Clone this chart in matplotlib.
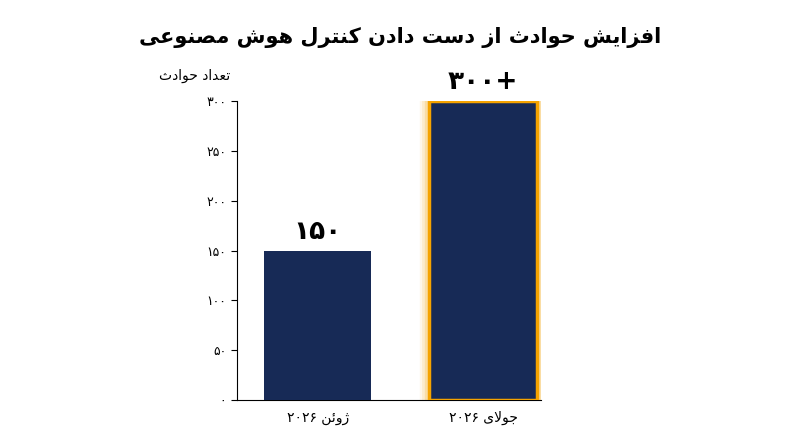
import matplotlib
matplotlib.use("Agg")
import matplotlib.pyplot as plt

categories = ["ژوئن ۲۰۲۶", "جولای ۲۰۲۶"]
values = [150, 300]
bar_labels = ["۱۵۰", "۳۰۰+"]
yticks = [0, 50, 100, 150, 200, 250, 300]
title = "افزایش حوادث از دست دادن کنترل هوش مصنوعی"
ylabel = "تعداد حوادث"

FORMS = {  # iso, fin, ini, med
    'ا': ('\uFE8D', '\uFE8E', None, None), 'ب': ('\uFE8F', '\uFE90', '\uFE91', '\uFE92'),
    'ت': ('\uFE95', '\uFE96', '\uFE97', '\uFE98'), 'ث': ('\uFE99', '\uFE9A', '\uFE9B', '\uFE9C'),
    'ج': ('\uFE9D', '\uFE9E', '\uFE9F', '\uFEA0'), 'ح': ('\uFEA1', '\uFEA2', '\uFEA3', '\uFEA4'),
    'د': ('\uFEA9', '\uFEAA', None, None), 'ذ': ('\uFEAB', '\uFEAC', None, None),
    'ر': ('\uFEAD', '\uFEAE', None, None), 'ز': ('\uFEAF', '\uFEB0', None, None),
    'ژ': ('\uFB8A', '\uFB8B', None, None), 'س': ('\uFEB1', '\uFEB2', '\uFEB3', '\uFEB4'),
    'ش': ('\uFEB5', '\uFEB6', '\uFEB7', '\uFEB8'), 'ص': ('\uFEB9', '\uFEBA', '\uFEBB', '\uFEBC'),
    'ع': ('\uFEC9', '\uFECA', '\uFECB', '\uFECC'), 'ف': ('\uFED1', '\uFED2', '\uFED3', '\uFED4'),
    'ک': ('\uFB8E', '\uFB8F', '\uFB90', '\uFB91'), 'ل': ('\uFEDD', '\uFEDE', '\uFEDF', '\uFEE0'),
    'م': ('\uFEE1', '\uFEE2', '\uFEE3', '\uFEE4'), 'ن': ('\uFEE5', '\uFEE6', '\uFEE7', '\uFEE8'),
    'و': ('\uFEED', '\uFEEE', None, None), 'ه': ('\uFEE9', '\uFEEA', '\uFEEB', '\uFEEC'),
    'ی': ('\uFBFC', '\uFBFD', '\uFBFE', '\uFBFF'), 'ئ': ('\uFE89', '\uFE8A', '\uFE8B', '\uFE8C'),
}

def joins_left(c):
    return c in FORMS and FORMS[c][2] is not None

def shape_word(w):
    # lam-alef
    out = []
    chars = list(w)
    i = 0
    res = []
    while i < len(chars):
        c = chars[i]
        prev = chars[i - 1] if i > 0 else None
        pj = prev is not None and joins_left(prev)
        if c == 'ل' and i + 1 < len(chars) and chars[i + 1] == 'ا':
            res.append('\uFEFC' if pj else '\uFEFB')
            i += 2
            chars_prev_nonjoin = True
            # next char after lam-alef does not join to it
            if i < len(chars):
                chars[i - 1] = 'ا'
            continue
        if c not in FORMS:
            res.append(c); i += 1; continue
        nxt = chars[i + 1] if i + 1 < len(chars) else None
        nj = nxt is not None and nxt in FORMS and joins_left(c)
        iso, fin, ini, med = FORMS[c]
        if pj and nj:
            res.append(med)
        elif pj:
            res.append(fin)
        elif nj:
            res.append(ini)
        else:
            res.append(iso)
        i += 1
    return ''.join(reversed(res))

def rtl(s):
    words = s.split(' ')
    out = []
    for w in words:
        if any(ch in FORMS for ch in w):
            out.append(shape_word(w))
        else:
            out.append(w)
    return ' '.join(reversed(out))

def fa_digits(n):
    return str(n).translate(str.maketrans('0123456789', '۰۱۲۳۴۵۶۷۸۹'))

plt.rcParams['font.family'] = ['DejaVu Sans']
fig = plt.figure(figsize=(8, 4.47), dpi=100)
ax = fig.add_axes([0.296, 0.105, 0.38, 0.669])
navy = '#172a56'
orange = '#f5a300'
x = [0, 1]
bars = ax.bar(x, values, width=0.65, color=navy, zorder=3)
# glow on second bar
for lw, a in [(14, 0.08), (10, 0.12), (6, 0.2)]:
    ax.bar(x[1], values[1], width=0.65, color='none', edgecolor=orange, linewidth=lw, alpha=a, zorder=2)
ax.bar(x[1], values[1], width=0.65, color=navy, edgecolor=orange, linewidth=2.5, zorder=4)

for xi, v, lab in zip(x, values, bar_labels):
    ax.text(xi, v + 6, lab, ha='center', va='bottom', fontsize=19, fontweight='bold', color='black')

ax.set_xlim(-0.49, 1.35)
ax.set_ylim(0, 300)
ax.set_yticks(yticks)
ax.set_yticklabels([fa_digits(t) for t in yticks], fontsize=9)
ax.set_xticks(x)
ax.set_xticklabels([rtl(c) for c in categories], fontsize=10)
ax.tick_params(axis='x', length=0, pad=8)
ax.tick_params(axis='y', length=4)
for s in ['top', 'right']:
    ax.spines[s].set_visible(False)
ax.text(-0.02, 1.06, rtl(ylabel), transform=ax.transAxes, ha='right', va='bottom', fontsize=10)
fig.text(0.5, 0.915, rtl(title), ha='center', va='center', fontsize=15, fontweight='bold')
fig.savefig('out.png', dpi=100)
